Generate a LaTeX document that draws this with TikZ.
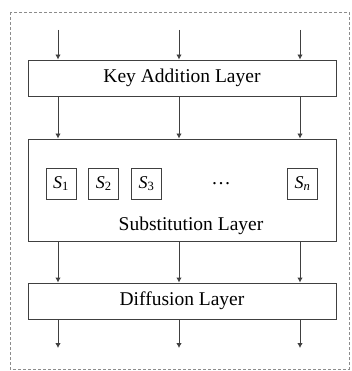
\documentclass[tikz,border=0pt]{standalone}
\usepackage{fontspec}
\setmainfont{Liberation Serif}
\usetikzlibrary{positioning,arrows.meta}

\begin{document}
\begin{tikzpicture}[
    x=1pt, y=-1pt,
    font=\fontsize{19.5}{23}\selectfont,
    node distance=12pt,
    layer/.style={draw=black!75, line width=0.9pt, minimum width=308pt, inner sep=0pt},
    sbox/.style={draw=black!75, line width=0.8pt, minimum width=30pt, minimum height=31pt,
                 inner sep=0pt, font=\fontsize{18}{21}\selectfont},
    arr/.style={-{Latex[length=5pt, width=5.5pt]}, line width=0.9pt, draw=black!75},
    frame/.style={draw=black!45, line width=0.7pt, dash pattern=on 3pt off 2pt}
]
\useasboundingbox (0,0) rectangle (351,371);
\draw[frame] (10,12) rectangle (349,369);

% layers
\node[layer, minimum height=36pt] (key) at (182,78) {Key Addition Layer};
\node[layer, minimum height=102pt] (sub) at (182,190) {};
\node (subtxt) at (191,226) {Substitution Layer};
\node[layer, minimum height=36pt] (dif) at (182,301) {Diffusion Layer};

% s-boxes
\node[sbox] (s1) at (61,183.5) {\textit{S}\textsubscript{1}};
\node[sbox, right=of s1] (s2) {\textit{S}\textsubscript{2}};
\node[sbox, right=of s2] (s3) {\textit{S}\textsubscript{3}};
\node[sbox] (sn) at (302.5,183.5) {\textit{S}\textsubscript{\textit{n}}};
\node (dots) at (221,183.5) {\dots};

% input / output ends
\coordinate (in1) at (58,30);
\coordinate (in2) at (179,30);
\coordinate (in3) at (300,30);
\coordinate (out1) at (58,348);
\coordinate (out2) at (179,348);
\coordinate (out3) at (300,348);

\foreach \i in {1,2,3} {
  \draw[arr] (in\i) -- (key.north -| in\i);
  \draw[arr] (key.south -| in\i) -- (sub.north -| in\i);
  \draw[arr] (sub.south -| in\i) -- (dif.north -| in\i);
  \draw[arr] (dif.south -| in\i) -- (out\i);
}
\end{tikzpicture}
\end{document}
